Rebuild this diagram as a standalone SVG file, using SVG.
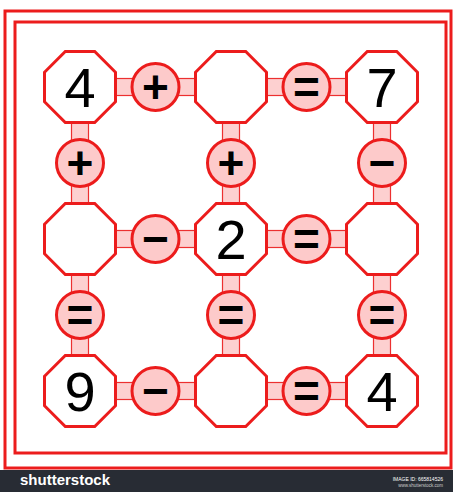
<svg xmlns="http://www.w3.org/2000/svg" xmlns:xlink="http://www.w3.org/1999/xlink" width="453" height="492" viewBox="0 0 453 492">
<style>
.frame{fill:none;stroke:#ec1c1c;stroke-width:3}
.bar{fill:#fdd0d0;stroke:#ec3030;stroke-width:1.2}
.oct{fill:#ffffff;stroke:#ec1c1c;stroke-width:3;stroke-linejoin:miter}
.op{fill:#fdcaca;stroke:#ec1c1c;stroke-width:3}
.num{font-family:"Liberation Sans",Arial,sans-serif;font-size:56px;fill:#000;text-anchor:middle}
.sym{font-family:"Liberation Sans",Arial,sans-serif;font-size:46px;font-weight:bold;fill:#000;text-anchor:middle}
</style>
<defs>
<path id="octa" d="M-14.7,-35.5 L14.7,-35.5 L35.5,-14.7 L35.5,14.7 L14.7,35.5 L-14.7,35.5 L-35.5,14.7 L-35.5,-14.7 Z"/>
</defs>
<rect x="0" y="0" width="453" height="492" fill="#ffffff"/>
<g id="frame">
<rect class="frame" x="5" y="11" width="446" height="457"/>
<rect class="frame" x="15" y="22" width="431" height="431"/>
</g>
<g id="connectors">
<rect class="bar" x="80" y="78.5" width="302" height="17"/>
<rect class="bar" x="80" y="230.5" width="302" height="17"/>
<rect class="bar" x="80" y="382.5" width="302" height="17"/>
<rect class="bar" x="71.5" y="87" width="17" height="304"/>
<rect class="bar" x="222.5" y="87" width="17" height="304"/>
<rect class="bar" x="373.5" y="87" width="17" height="304"/>
</g>
<g id="n11"><use xlink:href="#octa" class="oct" x="80" y="87"/><text class="num" x="80" y="107">4</text></g>
<g id="n12"><use xlink:href="#octa" class="oct" x="231" y="87"/></g>
<g id="n13"><use xlink:href="#octa" class="oct" x="382" y="87"/><text class="num" x="382" y="107">7</text></g>
<g id="n21"><use xlink:href="#octa" class="oct" x="80" y="239"/></g>
<g id="n22"><use xlink:href="#octa" class="oct" x="231" y="239"/><text class="num" x="231" y="259">2</text></g>
<g id="n23"><use xlink:href="#octa" class="oct" x="382" y="239"/></g>
<g id="n31"><use xlink:href="#octa" class="oct" x="80" y="391"/><text class="num" x="80" y="411">9</text></g>
<g id="n32"><use xlink:href="#octa" class="oct" x="231" y="391"/></g>
<g id="n33"><use xlink:href="#octa" class="oct" x="382" y="391"/><text class="num" x="382" y="411">4</text></g>
<g id="op-h11"><circle class="op" cx="155.5" cy="87" r="23.5"/><text class="sym" x="155.5" y="103">+</text></g>
<g id="op-h12"><circle class="op" cx="306.5" cy="87" r="23.5"/><text class="sym" x="306.5" y="103">=</text></g>
<g id="op-h21"><circle class="op" cx="155.5" cy="239" r="23.5"/><text class="sym" x="155.5" y="255">−</text></g>
<g id="op-h22"><circle class="op" cx="306.5" cy="239" r="23.5"/><text class="sym" x="306.5" y="255">=</text></g>
<g id="op-h31"><circle class="op" cx="155.5" cy="391" r="23.5"/><text class="sym" x="155.5" y="407">−</text></g>
<g id="op-h32"><circle class="op" cx="306.5" cy="391" r="23.5"/><text class="sym" x="306.5" y="407">=</text></g>
<g id="op-v11"><circle class="op" cx="80" cy="163" r="23.5"/><text class="sym" x="80" y="179">+</text></g>
<g id="op-v12"><circle class="op" cx="231" cy="163" r="23.5"/><text class="sym" x="231" y="179">+</text></g>
<g id="op-v13"><circle class="op" cx="382" cy="163" r="23.5"/><text class="sym" x="382" y="179">−</text></g>
<g id="op-v21"><circle class="op" cx="80" cy="315" r="23.5"/><text class="sym" x="80" y="331">=</text></g>
<g id="op-v22"><circle class="op" cx="231" cy="315" r="23.5"/><text class="sym" x="231" y="331">=</text></g>
<g id="op-v23"><circle class="op" cx="382" cy="315" r="23.5"/><text class="sym" x="382" y="331">=</text></g>
<g id="footer">
<rect x="0" y="470" width="453" height="22" fill="#282c34"/>
<text x="20" y="485" font-family="'Liberation Sans',Arial,sans-serif" font-size="15" font-weight="bold" fill="#ffffff">shutterstock</text>
<text x="443" y="481" font-family="'Liberation Sans',Arial,sans-serif" font-size="5" fill="#ffffff" text-anchor="end">IMAGE ID: 665814526</text>
<text x="443" y="487" font-family="'Liberation Sans',Arial,sans-serif" font-size="4.5" fill="#cccccc" text-anchor="end">www.shutterstock.com</text>
</g>
</svg>
